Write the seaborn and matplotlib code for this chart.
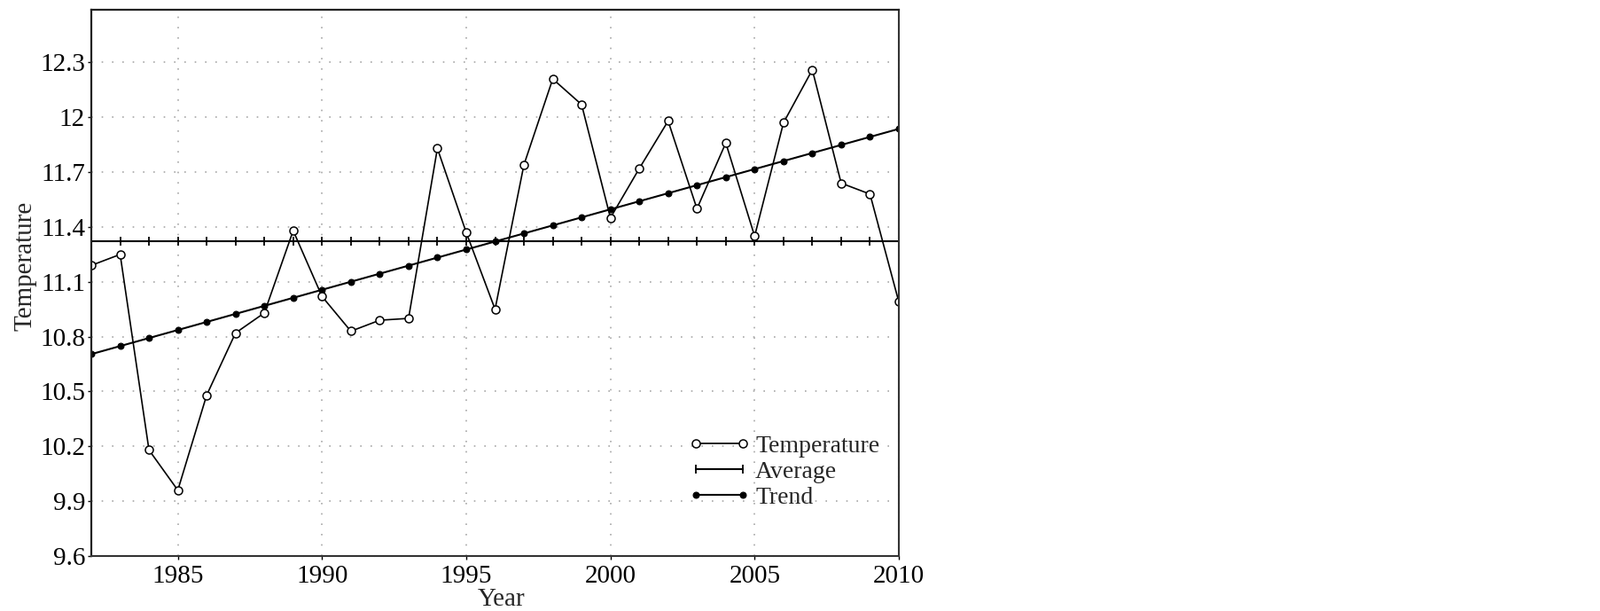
import numpy as np
import pandas as pd
import matplotlib
matplotlib.use('Agg')
import matplotlib.pyplot as plt
import seaborn as sns

# 연도별 기온
years = list(range(1982, 2011))
temps = [11.19, 11.25, 10.18, 9.96, 10.48, 10.82, 10.93, 11.38, 11.02, 10.83,
         10.89, 10.90, 11.83, 11.37, 10.95, 11.74, 12.21, 12.07, 11.45, 11.72,
         11.98, 11.50, 11.86, 11.35, 11.97, 12.26, 11.64, 11.58, 10.99]
ytick_vals = [9.6, 9.9, 10.2, 10.5, 10.8, 11.1, 11.4, 11.7, 12.0, 12.3]
ytick_labels = ['9.6', '9.9', '10.2', '10.5', '10.8', '11.1', '11.4', '11.7', '12', '12.3']
xtick_vals = [1985, 1990, 1995, 2000, 2005, 2010]

df = pd.DataFrame({'Year': years, 'Temperature': temps})
# 평균선과 추세선 (데이터로부터 계산)
df['Average'] = df['Temperature'].mean()
fit = np.polyfit(df['Year'], df['Temperature'], 1)
df['Trend'] = np.poly1d(fit)(df['Year'])

sns.set_style('ticks')
plt.rcParams['font.family'] = ['Liberation Serif', 'DejaVu Serif']
plt.rcParams['font.size'] = 21

fig = plt.figure(figsize=(18.05, 6.89), dpi=100)
ax = fig.add_axes([103 / 1805, 1 - 627 / 689, 911 / 1805, 616.3 / 689])

sns.lineplot(data=df, x='Year', y='Average', ax=ax, color='black', lw=1.5,
             marker='|', markersize=7, markeredgecolor='black',
             markeredgewidth=1.3, label='Average')
sns.lineplot(data=df, x='Year', y='Trend', ax=ax, color='black', lw=1.5,
             marker='o', markersize=5, markeredgecolor='black', label='Trend')
sns.lineplot(data=df, x='Year', y='Temperature', ax=ax, color='black', lw=1.2,
             marker='o', markersize=6.5, markerfacecolor='white',
             markeredgecolor='black', markeredgewidth=1.1, label='Temperature')

ax.set_xlim(1982, 2010)
ax.set_ylim(9.6, 12.59)
ax.set_xticks(xtick_vals)
ax.set_yticks(ytick_vals, ytick_labels)
ax.tick_params(axis='both', direction='out', length=3, width=1, labelsize=21,
               colors='black', pad=2)
ax.tick_params(axis='x', pad=4)
ax.grid(True, color='#a8a8a8', linestyle=(0, (1, 6)), linewidth=1.2)

for side in ['top', 'left']:
    ax.spines[side].set_color('#222222')
    ax.spines[side].set_linewidth(1.6)
for side in ['bottom', 'right']:
    ax.spines[side].set_color('#333333')
    ax.spines[side].set_linewidth(1.5)
    ax.spines[side].set_linestyle((0, (4, 0.8)))

ax.set_xlabel('Year', fontsize=21)
ax.set_ylabel('Temperature', fontsize=21)
ax.xaxis.set_label_coords(0.508, -0.058)
ax.yaxis.set_label_coords(-0.068, 0.53)

# 범례 순서: Temperature, Average, Trend
h, l = ax.get_legend_handles_labels()
order = [l.index('Temperature'), l.index('Average'), l.index('Trend')]
ax.legend([h[i] for i in order], [l[i] for i in order], loc='center left',
          bbox_to_anchor=(0.74, 0.154), frameon=False, numpoints=2,
          handlelength=2.5, handletextpad=0.2, labelspacing=0.12,
          borderpad=0, borderaxespad=0, fontsize=20)

fig.savefig('out.png', dpi=100, facecolor='white')
